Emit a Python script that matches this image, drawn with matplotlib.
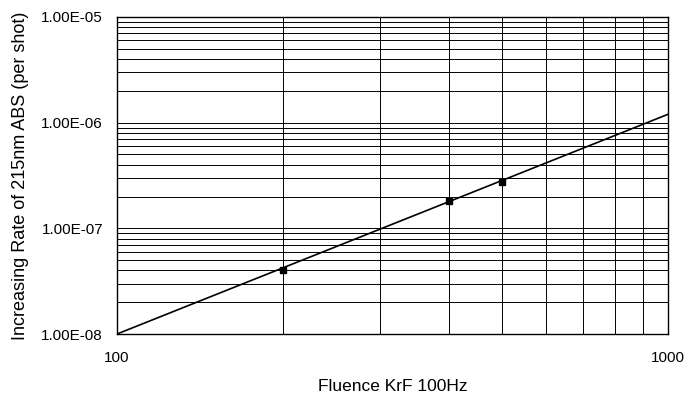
import matplotlib
matplotlib.use("Agg")
import matplotlib.pyplot as plt
from matplotlib.ticker import FixedLocator, FuncFormatter, NullFormatter, LogLocator

plt.rcParams['font.family'] = ['Liberation Sans', 'DejaVu Sans']

# data
point_x = [200, 400, 500]
point_y = [4.0e-8, 1.8e-7, 2.75e-7]
fit_x = [100, 1000]
fit_y = [1.0e-8, 1.2e-6]
x_ticks = [100, 1000]
y_ticks = [1e-8, 1e-7, 1e-6, 1e-5]
x_label = "Fluence KrF 100Hz"
y_label = "Increasing Rate of 215nm ABS (per shot)"

fig = plt.figure(figsize=(6.93, 3.94), dpi=100)
ax = fig.add_axes([117/693, 1-334/394, (668-117)/693, (334-17)/394])

ax.set_xscale('log')
ax.set_yscale('log')
ax.set_xlim(100, 1000)
ax.set_ylim(1e-8, 1e-5)

ax.plot(fit_x, fit_y, color='black', lw=1.2, zorder=3)
ax.plot(point_x, point_y, 's', color='black', ms=4.5, zorder=4)

ax.xaxis.set_major_locator(FixedLocator(x_ticks))
ax.yaxis.set_major_locator(FixedLocator(y_ticks))
ax.xaxis.set_minor_locator(LogLocator(base=10, subs=range(2, 10)))
ax.yaxis.set_minor_locator(LogLocator(base=10, subs=range(2, 10)))
ax.xaxis.set_minor_formatter(NullFormatter())
ax.yaxis.set_minor_formatter(NullFormatter())
ax.xaxis.set_major_formatter(FuncFormatter(lambda v, p: f"{v:.0f}"))
ax.yaxis.set_major_formatter(FuncFormatter(lambda v, p: f"{v:.2E}"))

ax.grid(True, which='both', color='black', lw=0.7)
ax.tick_params(which='both', length=0)
ax.tick_params(axis='x', pad=12, labelsize=11)
ax.tick_params(axis='y', pad=10, labelsize=11)
for s in ax.spines.values():
    s.set_linewidth(1.0)

ax.set_xlabel(x_label, fontsize=12.5, labelpad=10)
ax.set_ylabel(y_label, fontsize=13, labelpad=9)

fig.savefig("out.png", dpi=100)
